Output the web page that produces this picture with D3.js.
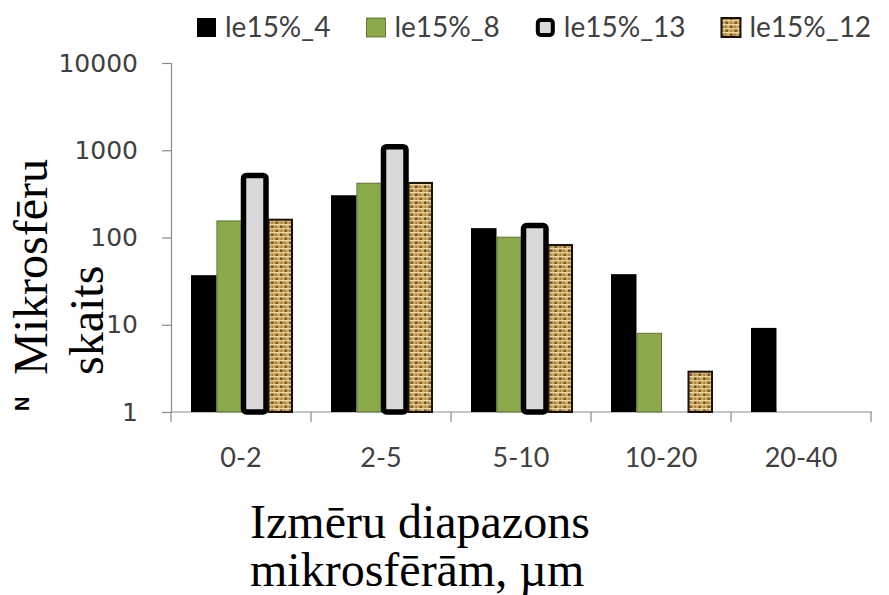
<!DOCTYPE html>
<html>
<head>
<meta charset="utf-8">
<script src="https://cdn.jsdelivr.net/npm/d3@7"></script>
<style>
  body { margin: 0; background: #fff; }
  svg { display: block; }
</style>
</head>
<body>
<div class="chart"></div>
<script>
// data
const categories = ["0-2", "2-5", "5-10", "10-20", "20-40"];
const seriesNames = ["le15%_4", "le15%_8", "le15%_13", "le15%_12"];
const le15_4  = [37, 305, 128, 38, 9.2];
const le15_8  = [155, 420, 101, 8, null];
const le15_13 = [515, 1100, 137, null, null];
const le15_12 = [160, 422, 82, 2.9, null];
const yTicks = [1, 10, 100, 1000, 10000];

const seriesValues = [le15_4, le15_8, le15_13, le15_12];

const width = 889, height = 595;
const plot = {left: 171, right: 871, top: 63, bottom: 412};

const svg = d3.select(".chart").append("svg")
    .attr("width", width)
    .attr("height", height);

// burlap-like texture for the last series
const defs = svg.append("defs");
const pat = defs.append("pattern")
    .attr("id", "burlap")
    .attr("patternUnits", "userSpaceOnUse")
    .attr("width", 9).attr("height", 8);
pat.append("rect").attr("width", 9).attr("height", 8).attr("fill", "#c9a45e");
pat.append("rect").attr("x", 0).attr("y", 0).attr("width", 9).attr("height", 1.5).attr("fill", "#efd7a2");
pat.append("rect").attr("x", 0).attr("y", 4).attr("width", 9).attr("height", 1.5).attr("fill", "#e6cb8e");
pat.append("rect").attr("x", 1).attr("y", 1.5).attr("width", 2.5).attr("height", 2.5).attr("fill", "#6f5021");
pat.append("rect").attr("x", 5.5).attr("y", 5.5).attr("width", 2.5).attr("height", 2.5).attr("fill", "#7d5c28");
pat.append("rect").attr("x", 5).attr("y", 1.5).attr("width", 1.5).attr("height", 2.5).attr("fill", "#9c7639");
pat.append("rect").attr("x", 1.5).attr("y", 5.5).attr("width", 1.5).attr("height", 2.5).attr("fill", "#a98445");

const styles = [
    {fill: "#000000", stroke: "none", sw: 0, inset: 0, rx: 0},
    {fill: "#8aa94b", stroke: "#4f6128", sw: 0.8, inset: 0.4, rx: 0},
    {fill: "#d9d9d9", stroke: "#000000", sw: 5.5, inset: 1.5, rx: 3},
    {fill: "url(#burlap)", stroke: "#1a1208", sw: 2, inset: 1, rx: 0}
];

const xScale = d3.scaleBand()
    .domain(categories)
    .range([plot.left, plot.right]);

const xInner = d3.scaleBand()
    .domain(seriesNames)
    .range([20, 122]);

const yScale = d3.scaleLog()
    .domain([1, 10000])
    .range([plot.bottom, plot.top]);

// axes
const axisColor = "#8a8a8a";
const yAxis = d3.axisLeft(yScale)
    .tickValues(yTicks)
    .tickFormat(d3.format("d"))
    .tickSize(9)
    .tickPadding(24);

const gy = svg.append("g")
    .attr("class", "axis y-axis")
    .attr("transform", "translate(" + plot.left + ",0)")
    .call(yAxis);
gy.select(".domain").attr("stroke", axisColor).attr("stroke-width", 1.2);
gy.selectAll(".tick line").attr("stroke", axisColor).attr("stroke-width", 1.2);
gy.selectAll(".tick text")
    .attr("fill", "#404040")
    .style("font-family", "DejaVu Sans")
    .style("font-size", "25px");

// x axis line + boundary ticks
svg.append("line")
    .attr("x1", plot.left).attr("x2", plot.right + 1)
    .attr("y1", plot.bottom).attr("y2", plot.bottom)
    .attr("stroke", axisColor).attr("stroke-width", 1.2);

const bounds = categories.map(c => xScale(c)).concat([xScale(categories[categories.length - 1]) + xScale.bandwidth()]);
svg.selectAll(".xtick")
    .data(bounds)
    .enter()
    .append("line")
    .attr("class", "xtick")
    .attr("x1", d => d).attr("x2", d => d)
    .attr("y1", plot.bottom).attr("y2", plot.bottom + 10)
    .attr("stroke", axisColor).attr("stroke-width", 1.2);

svg.selectAll(".xlabel")
    .data(categories)
    .enter()
    .append("text")
    .attr("class", "xlabel")
    .attr("x", d => xScale(d) + xScale.bandwidth() / 2)
    .attr("y", 467)
    .attr("text-anchor", "middle")
    .attr("fill", "#404040")
    .style("font-family", "Lato")
    .style("font-size", "27px")
    .text(d => d);

// bars
seriesNames.forEach(function(s, si) {
    const st = styles[si];
    const rows = categories.map((c, i) => ({cat: c, v: seriesValues[si][i]}))
        .filter(d => d.v != null);
    svg.append("g")
        .attr("class", "series s" + si)
        .selectAll("rect")
        .data(rows)
        .enter()
        .append("rect")
        .attr("x", d => xScale(d.cat) + xInner(s) + st.inset)
        .attr("width", xInner.bandwidth() - 2 * st.inset)
        .attr("y", d => yScale(d.v))
        .attr("height", d => yScale(1) - yScale(d.v))
        .attr("rx", st.rx)
        .attr("fill", st.fill)
        .attr("stroke", st.stroke)
        .attr("stroke-width", st.sw);
});

// legend
const legend = svg.append("g").attr("class", "legend");
let lx = 197;
seriesNames.forEach(function(s, si) {
    const st = styles[si];
    const sq = 19;
    legend.append("rect")
        .attr("x", lx + (si === 2 ? 2 : 0))
        .attr("y", 18 + (si === 2 ? 2 : 0))
        .attr("width", sq - (si === 2 ? 4 : 0))
        .attr("height", sq - (si === 2 ? 4 : 0))
        .attr("rx", st.rx)
        .attr("fill", st.fill)
        .attr("stroke", st.stroke)
        .attr("stroke-width", si === 2 ? 4 : st.sw);
    const t = legend.append("text")
        .attr("x", lx + 28)
        .attr("y", 37)
        .attr("fill", "#404040")
        .style("font-family", "Lato")
        .style("font-size", "28px")
        .text(s);
    lx = lx + 28 + t.node().getComputedTextLength() + 36;
});

// axis titles
const serif = "'Liberation Serif', 'Times New Roman', serif";
svg.append("text")
    .attr("transform", "translate(47,375) rotate(-90)")
    .style("font-family", serif)
    .style("font-size", "48px")
    .text("Mikrosfēru");
svg.append("text")
    .attr("transform", "translate(103,375) rotate(-90)")
    .style("font-family", serif)
    .style("font-size", "48px")
    .text("skaits");
svg.append("text")
    .attr("transform", "translate(29,411) rotate(-90)")
    .attr("font-family", "Liberation Sans")
    .attr("font-weight", "bold")
    .attr("font-size", 20)
    .text("N");

svg.append("text")
    .attr("x", 250).attr("y", 538)
    .style("font-family", serif)
    .style("font-size", "48px")
    .text("Izmēru diapazons");
svg.append("text")
    .attr("x", 250).attr("y", 586)
    .style("font-family", serif)
    .style("font-size", "48px")
    .text("mikrosfērām, µm");
</script>
</body>
</html>
